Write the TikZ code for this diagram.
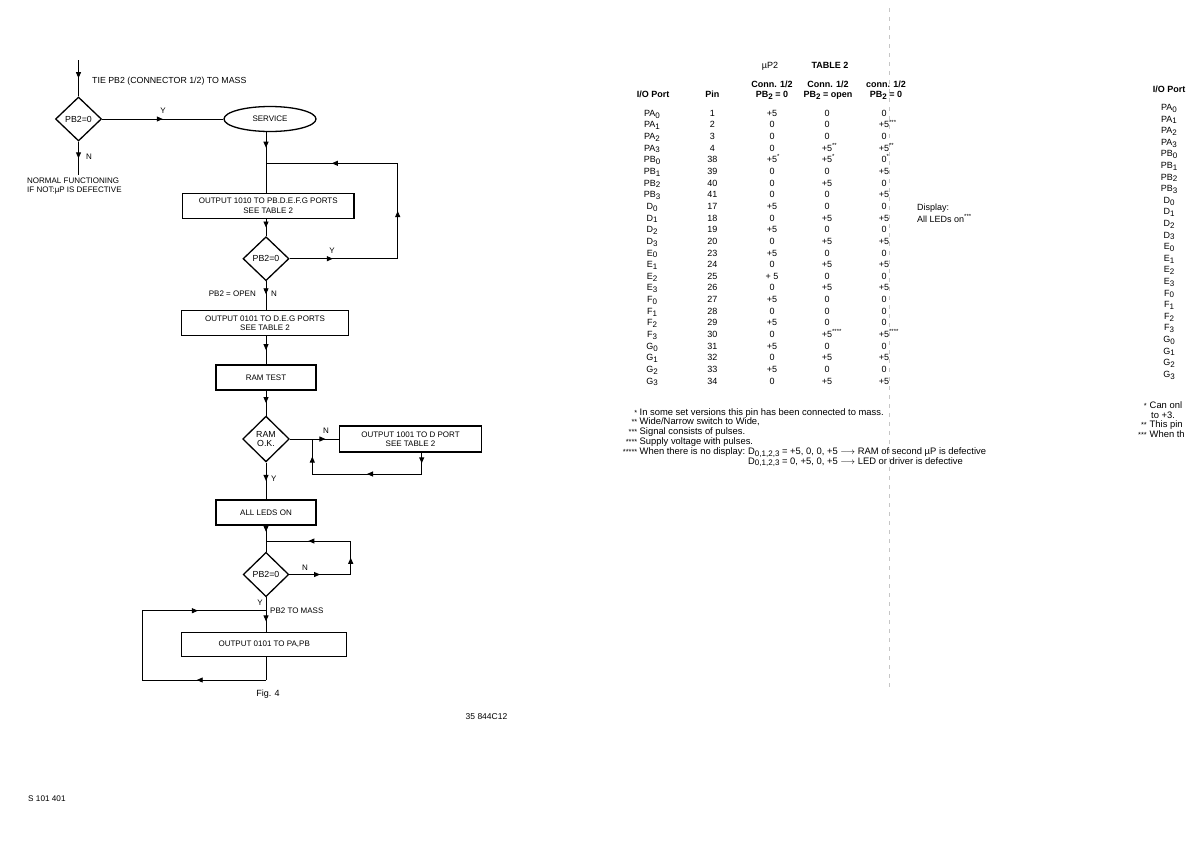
\documentclass[tikz,border=0pt]{standalone}
\usepackage{fontspec}
\setmainfont{Liberation Sans}
\usetikzlibrary{shapes.geometric,arrows.meta,decorations.markings}
\newcommand\lsb[1]{\raisebox{-1.8pt}{\fontsize{8}{8}\selectfont #1}}
\newcommand\stx[1]{\rlap{\textsuperscript{#1}}}
\newcommand\fcfont{\fontsize{8}{9.2}\selectfont}
\newcommand\tbfont{\fontsize{9}{10}\selectfont}
\newcommand\fnfont{\fontsize{9.4}{10}\selectfont}
\tikzset{
 conn/.style={line width=0.9pt},
 midarr/.style={postaction={decorate},decoration={markings,mark=at position #1 with {\arrow{Triangle[length=6pt,width=5pt]}}}},
 midarr/.default=0.5,
 fbox/.style={draw,line width=1.3pt,rectangle,inner sep=0pt,align=center,font=\fcfont},
 dia/.style={draw,line width=1.3pt,diamond,inner sep=0pt,font=\fontsize{8.8}{9.4}\selectfont,align=center},
 fctext/.style={font=\fcfont,inner sep=0pt},
 tb/.style={font=\tbfont,inner sep=0pt,anchor=base},
 tbh/.style={font=\tbfont\bfseries,inner sep=0pt,anchor=base},
 fn/.style={font=\fnfont,inner sep=0pt,anchor=base west},
 fnstar/.style={font=\fontsize{7.4}{8}\selectfont,inner sep=0pt,anchor=base east},
}
\begin{document}
\begin{tikzpicture}[x=1pt,y=-1pt]
\useasboundingbox (0,0) rectangle (1191,841);
% fold line
\coordinate (fold1) at (889,8); \coordinate (fold2) at (889,690);
\draw[gray!45,line width=0.5pt,dash pattern=on 4pt off 5pt] (fold1) -- (fold2);

% ---------- flowchart ----------
\coordinate (top) at (78.5,60);
\node[dia,minimum width=46pt,minimum height=44pt] (d1) at (78.5,119) {PB2=0};
\node[fctext,anchor=west,font=\fontsize{8.8}{10}\selectfont] (tie) at (92,81) {TIE PB2 (CONNECTOR 1/2) TO MASS};
\coordinate (nf) at (78.5,175);
\node[fctext,anchor=west] (n1) at (86,157) {N};
\node[fctext,anchor=north west,align=left] (normal) at (27,178) {NORMAL FUNCTIONING\\IF NOT:µP IS DEFECTIVE};
\node[draw,ellipse,line width=1.3pt,minimum width=92pt,minimum height=25pt,inner sep=0pt,font=\fcfont] (service) at (270,119) {SERVICE};
\node[fctext] (y1) at (163,111) {Y};
\draw[conn,midarr] (top) -- (d1.north);
\draw[conn,midarr] (d1.south) -- (nf);
\draw[conn,midarr] (d1.east) -- (service.west);

\coordinate (j1) at (266,163.3);
\node[fbox,minimum width=171.7pt,minimum height=25pt] (b1) at (268.2,205.8) {OUTPUT 1010 TO PB.D.E.F.G PORTS\\SEE TABLE 2};
\draw[conn,midarr] (service.south -| j1) -- (j1);
\draw[conn] (j1) -- (j1 |- b1.north);
\node[dia,minimum width=46pt,minimum height=44pt] (d2) at (266,258.7) {PB2=0};
\draw[conn,midarr] (b1.south -| d2) -- (d2.north);
\coordinate (r1) at (397.7,258.7); \coordinate (r2) at (397.7,163.3);
\draw[conn,midarr=0.4] (d2.east) -- (r1);
\draw[conn,midarr] (r1) -- (r2);
\draw[conn,midarr] (r2) -- (j1);
\node[fctext] (y2) at (332,251) {Y};

\node[fbox,minimum width=167pt,minimum height=24.5pt] (b2) at (265,323) {OUTPUT 0101 TO D.E.G PORTS\\SEE TABLE 2};
\draw[conn,midarr=0.45] (d2.south) -- (d2.south |- b2.north);
\node[fctext,anchor=east] (open) at (256,294) {PB2 = OPEN};
\node[fctext,anchor=west] (n2) at (271,294) {N};

\node[fbox,minimum width=100pt,minimum height=25pt] (ram) at (266,377.5) {RAM TEST};
\draw[conn,midarr] (d2 |- b2.south) -- (d2 |- ram.north);
\node[dia,minimum width=46.6pt,minimum height=45.7pt] (d3) at (266,439) {RAM\\O.K.};
\draw[conn,midarr] (ram.south) -- (d3.north);
\coordinate (j2) at (312.3,439);
\node[fbox,minimum width=142.5pt,minimum height=26pt] (b3) at (410.5,439) {OUTPUT 1001 TO D PORT\\SEE TABLE 2};
\draw[conn] (d3.east) -- (j2);
\draw[conn,midarr] (j2) -- (b3.west);
\node[fctext] (n3) at (326,431) {N};
\coordinate (l1) at (421.7,474); \coordinate (l2) at (312.3,474);
\draw[conn,midarr] (l1 |- b3.south) -- (l1);
\draw[conn,midarr] (l1) -- (l2);
\draw[conn,midarr] (l2) -- (j2);

\node[fbox,minimum width=100pt,minimum height=25pt] (leds) at (266,512.5) {ALL LEDS ON};
\draw[conn,midarr] (d3.south) -- (leds.north);
\node[fctext,anchor=west] (y3) at (271,479) {Y};
\coordinate (j3) at (266,541);
\draw[conn,midarr=0.4] (leds.south) -- (j3);
\node[dia,minimum width=45.6pt,minimum height=44.4pt] (d4) at (266,574.5) {PB2=0};
\draw[conn] (j3) -- (d4.north);
\coordinate (r3) at (350.7,574.5); \coordinate (r4) at (350.7,541);
\draw[conn,midarr] (d4.east) -- (r3);
\draw[conn,midarr] (r3) -- (r4);
\draw[conn,midarr] (r4) -- (j3);
\node[fctext] (n4) at (305,568) {N};

\coordinate (j4) at (266,610.7);
\node[fbox,minimum width=165pt,minimum height=24pt] (b4) at (264.2,644.7) {OUTPUT 0101 TO PA,PB};
\draw[conn] (d4.south) -- (j4);
\draw[conn,midarr] (j4) -- (j4 |- b4.north);
\node[fctext,anchor=east] (y4) at (263,603) {Y};
\node[fctext,anchor=west] (mass) at (270,611) {PB2 TO MASS};
\coordinate (l3) at (266,680); \coordinate (l4) at (142.3,680); \coordinate (l5) at (142.3,610.7);
\draw[conn] (l3 |- b4.south) -- (l3);
\draw[conn,midarr=0.56] (l3) -- (l4);
\draw[conn] (l4) -- (l5);
\draw[conn,midarr=0.45] (l5) -- (j4);
\node[font=\fontsize{9}{10}\selectfont,inner sep=0pt] (fig) at (268,694) {Fig. 4};
\node[font=\fontsize{8.5}{10}\selectfont,inner sep=0pt] (code) at (486.5,716.7) {35 844C12};
\node[font=\fontsize{8.2}{10}\selectfont,inner sep=0pt,anchor=west] (doc) at (28,799) {S 101 401};

% ---------- table ----------
\node[tb] (up2) at (770,68) {µP2};
\node[tbh] (t2) at (830,68) {TABLE 2};
\node[tbh] (hio) at (653,97.2) {I/O Port};
\node[tbh] (hpin) at (712.3,97.2) {Pin};
\node[tbh] (h1a) at (772,87.7) {Conn. 1/2};
\node[tbh] (h1b) at (772,97.2) {PB\lsb{2} = 0};
\node[tbh] (h2a) at (828,87.7) {Conn. 1/2};
\node[tbh] (h2b) at (828,97.2) {PB\lsb{2} = open};
\node[tbh] (h3a) at (886,87.7) {conn. 1/2};
\node[tbh] (h3b) at (886,97.2) {PB\lsb{2} = 0};
\foreach \p/\n/\a/\b/\c [count=\i from 0] in {
 PA\lsb{0}/1/+5/0/0,
 PA\lsb{1}/2/0/0/+5\stx{***},
 PA\lsb{2}/3/0/0/0,
 PA\lsb{3}/4/0/+5\stx{**}/+5\stx{**},
 PB\lsb{0}/38/+5\stx{*}/+5\stx{*}/0\stx{*},
 PB\lsb{1}/39/0/0/+5,
 PB\lsb{2}/40/0/+5/0,
 PB\lsb{3}/41/0/0/+5,
 D\lsb{0}/17/+5/0/0,
 D\lsb{1}/18/0/+5/+5,
 D\lsb{2}/19/+5/0/0,
 D\lsb{3}/20/0/+5/+5,
 E\lsb{0}/23/+5/0/0,
 E\lsb{1}/24/0/+5/+5,
 E\lsb{2}/25/+ 5/0/0,
 E\lsb{3}/26/0/+5/+5,
 F\lsb{0}/27/+5/0/0,
 F\lsb{1}/28/0/0/0,
 F\lsb{2}/29/+5/0/0,
 F\lsb{3}/30/0/+5\stx{****}/+5\stx{****},
 G\lsb{0}/31/+5/0/0,
 G\lsb{1}/32/0/+5/+5,
 G\lsb{2}/33/+5/0/0,
 G\lsb{3}/34/0/+5/+5}
{
 \node[tb] (pt\i) at (652,{116.2+11.65*\i}) {\p};
 \node[tb] (pn\i) at (712.3,{116.2+11.65*\i}) {\n};
 \node[tb] (va\i) at (772,{116.2+11.65*\i}) {\a};
 \node[tb] (vb\i) at (827,{116.2+11.65*\i}) {\b};
 \node[tb] (vc\i) at (884,{116.2+11.65*\i}) {\c};
}
\node[tb,anchor=base west] (disp1) at (917,210.4) {Display:};
\node[tb,anchor=base west] (disp2) at (917,222.2) {All LEDs on\textsuperscript{***}};

% footnotes
\foreach \s/\t/\yy [count=\k] in {
 {*}/{In some set versions this pin has been connected to mass.}/415,
 {**}/{Wide/Narrow switch to Wide,}/424.8,
 {***}/{Signal consists of pulses.}/434.6,
 {****}/{Supply voltage with pulses.}/444.4,
 {*****}/{When there is no display:}/454.2}
{
 \node[fnstar] (fs\k) at (637.5,\yy) {\s};
 \node[fn] (ft\k) at (639.5,\yy) {\t};
}
\node[fn] (fd1) at (748,454.2) {D\lsb{0,1,2,3} = +5, 0, 0, +5 $\longrightarrow$ RAM of second µP is defective};
\node[fn] (fd2) at (748,464) {D\lsb{0,1,2,3} = 0, +5, 0, +5 $\longrightarrow$ LED or driver is defective};

% right page (partial, cut by the page edge)
\node[tbh] (rhio) at (1169,92.2) {I/O Port};
\foreach \p [count=\i from 0] in {PA\lsb{0},PA\lsb{1},PA\lsb{2},PA\lsb{3},PB\lsb{0},PB\lsb{1},PB\lsb{2},PB\lsb{3},D\lsb{0},D\lsb{1},D\lsb{2},D\lsb{3},E\lsb{0},E\lsb{1},E\lsb{2},E\lsb{3},F\lsb{0},F\lsb{1},F\lsb{2},F\lsb{3},G\lsb{0},G\lsb{1},G\lsb{2},G\lsb{3}}
 { \node[tb] (rp\i) at (1169,{110.5+11.6*\i}) {\p}; }
\node[fnstar] (rs1) at (1147,408.5) {*};
\node[fn] (rt1) at (1149.5,408.5) {Can onl};
\node[fn] (rt2) at (1151,418) {to +3.};
\node[fnstar] (rs3) at (1147,427.5) {**};
\node[fn] (rt3) at (1149.5,427.5) {This pin};
\node[fnstar] (rs4) at (1147,437) {***};
\node[fn] (rt4) at (1149.5,437) {When th};
\end{tikzpicture}
\end{document}
